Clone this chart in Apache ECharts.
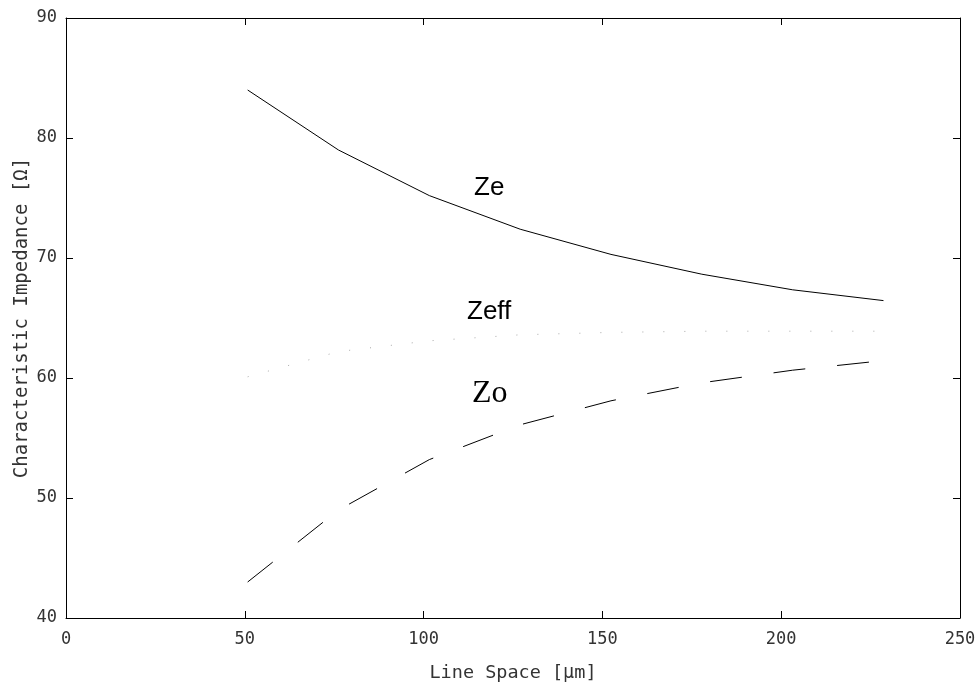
<!DOCTYPE html>
<html>
<head>
<meta charset="utf-8">
<script src="https://cdn.jsdelivr.net/npm/echarts@6/dist/echarts.min.js"></script>
<style>
html,body{margin:0;padding:0;background:#fff;}
#chart{width:980px;height:688px;}
</style>
</head>
<body>
<div id="chart"></div>
<script>
// Line space in micrometres (2..9 mil)
const lineSpace = [50.8, 76.2, 101.6, 127.0, 152.4, 177.8, 203.2, 228.6];
const ze   = [84.0, 79.0, 75.2, 72.4, 70.3, 68.65, 67.35, 66.45];
const zeff = [60.1, 62.2, 63.1, 63.6, 63.8, 63.9, 63.9, 63.9];
const zo   = [43.0, 49.0, 53.2, 56.1, 58.1, 59.6, 60.65, 61.45];
const xTitle = 'Line Space [\u03bcm]';
const yTitle = 'Characteristic Impedance [\u03a9]';

const pair = (xs, ys) => xs.map((x, i) => [x, ys[i]]);
const mono = '"DejaVu Sans Mono", monospace';

const chart = echarts.init(document.getElementById('chart'), null, {renderer: 'canvas'});
const axisBase = {
  axisLine: {show: true, onZero: false, lineStyle: {color: '#000', width: 1}},
  axisTick: {show: true, inside: true, length: 7, lineStyle: {color: '#000', width: 1}},
  splitLine: {show: false}
};
chart.setOption({
  backgroundColor: '#fff',
  animation: false,
  grid: {left: 66, right: 20, top: 18, bottom: 70},
  xAxis: [
    Object.assign({}, axisBase, {
      type: 'value', min: 0, max: 250, interval: 50, position: 'bottom',
      name: xTitle, nameLocation: 'middle', nameGap: 46, nameMoveOverlap: false,
      nameTextStyle: {fontFamily: mono, fontSize: 18.5, color: '#333'},
      axisLabel: {fontFamily: mono, fontSize: 17, color: '#333', margin: 13}
    }),
    Object.assign({}, axisBase, {
      type: 'value', min: 0, max: 250, interval: 50, position: 'top',
      axisLabel: {show: false}
    })
  ],
  yAxis: [
    Object.assign({}, axisBase, {
      type: 'value', min: 40, max: 90, interval: 10, position: 'left',
      name: yTitle, nameLocation: 'middle', nameGap: 34, nameMoveOverlap: false,
      nameTextStyle: {fontFamily: mono, fontSize: 19, color: '#333'},
      axisLabel: {fontFamily: mono, fontSize: 17, color: '#333', margin: 9}
    }),
    Object.assign({}, axisBase, {
      type: 'value', min: 40, max: 90, interval: 10, position: 'right',
      axisLabel: {show: false}
    })
  ],
  series: [
    {
      name: 'Ze', type: 'line', data: pair(lineSpace, ze), symbol: 'none',
      lineStyle: {color: '#000', width: 1}
    },
    {
      name: 'Zeff', type: 'line', data: pair(lineSpace, zeff), symbol: 'none',
      lineStyle: {color: '#aaa', width: 1, type: [1, 20]}
    },
    {
      name: 'Zo', type: 'line', data: pair(lineSpace, zo), symbol: 'none',
      lineStyle: {color: '#000', width: 1, type: [32, 32]}
    }
  ],
  graphic: [
    {type: 'text', left: 474, top: 175, style: {text: 'Ze', font: '26px "Liberation Sans", Arial, sans-serif', fill: '#000'}},
    {type: 'text', left: 467, top: 299, style: {text: 'Zeff', font: '26px "Liberation Sans", Arial, sans-serif', fill: '#000'}},
    {type: 'text', left: 472, top: 378, style: {text: 'Zo', font: '32px "Liberation Serif", "Times New Roman", serif', fill: '#000'}}
  ]
});
</script>
</body>
</html>
